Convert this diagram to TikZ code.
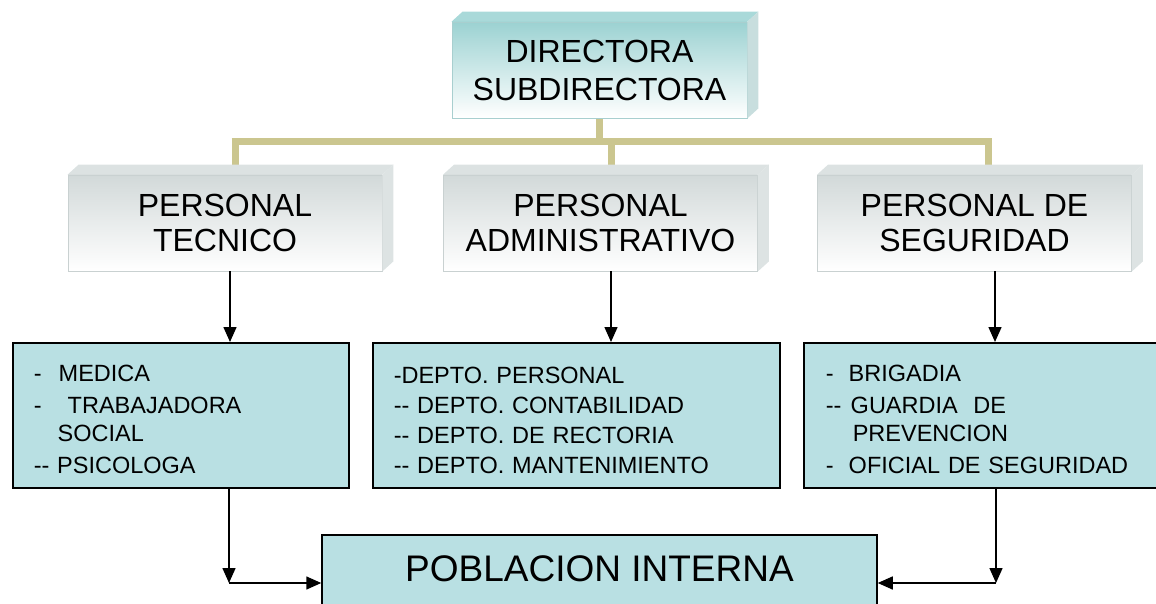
\documentclass[tikz,border=0pt]{standalone}
\usepackage{fontspec}
\setmainfont{Liberation Sans}
\usetikzlibrary{arrows.meta,calc,backgrounds}
\definecolor{goldc}{HTML}{CBC68F}
\definecolor{dirtop}{HTML}{9CD2D2}
\definecolor{dirbev}{HTML}{A9D9D9}
\definecolor{dirside}{HTML}{C8DEDE}
\definecolor{dirline}{HTML}{A8CFCF}
\definecolor{grtop}{HTML}{D2D9D9}
\definecolor{grbev}{HTML}{DCE2E2}
\definecolor{grside}{HTML}{DDE3E3}
\definecolor{grline}{HTML}{C9D1D1}
\definecolor{listc}{HTML}{B9E0E3}
\newcommand{\boxbevel}[3]{%
  \fill[#2] (#1.north west) -- ++(11,-10) -- ($(#1.north east)+(11,-10)$) -- (#1.north east) -- cycle;
  \fill[#3] (#1.north east) -- ++(11,-10) -- ($(#1.south east)+(11,-10)$) -- (#1.south east) -- cycle;}
\tikzset{
  goldline/.style={line width=7pt, draw=goldc},
  arr/.style={line width=1.5pt, -{Triangle[length=15pt,width=13pt]}},
  topbox/.style={minimum width=295pt, minimum height=96pt, top color=dirtop, bottom color=white,
    draw=dirline, line width=0.8pt, align=center, inner sep=0pt, font=\fontsize{32}{38}\selectfont},
  midbox/.style={minimum width=314pt, minimum height=96pt, top color=grtop, bottom color=white,
    draw=grline, line width=0.8pt, align=center, inner sep=0pt, font=\fontsize{32}{35}\selectfont},
  listbox/.style={fill=listc, draw=black, line width=1.5pt, anchor=north west, minimum height=145pt,
    align=left, inner ysep=0pt, font=\fontsize{23.5}{30}\selectfont},
  popbox/.style={fill=listc, draw=black, line width=1.5pt, anchor=north, minimum width=555pt,
    inner ysep=19.5pt, text height=27pt, text depth=60pt, font=\fontsize{37}{40}\selectfont}
}
\begin{document}
\begin{tikzpicture}[x=1pt,y=-1pt]
\useasboundingbox (0,0) rectangle (1156,604);
\clip (0,0) rectangle (1156,604);

% top box
\node[topbox] (dir) at (599.5,70) {DIRECTORA\\SUBDIRECTORA};
\boxbevel{dir}{dirbev}{dirside}

% second level
\node[midbox] (pt) at (225,223) {PERSONAL\\TECNICO};
\node[midbox] (pa) at (600.5,223) {PERSONAL\\ADMINISTRATIVO};
\node[midbox] (ps) at (974.5,223) {PERSONAL DE\\SEGURIDAD};
\boxbevel{pt}{grbev}{grside}
\boxbevel{pa}{grbev}{grside}
\boxbevel{ps}{grbev}{grside}

% bus
\coordinate (bus) at (dir.south |- 0,142);
\coordinate (busl) at (235,142);
\coordinate (busm) at (611,142);
\coordinate (busr) at (988,142);
\begin{pgfonlayer}{background}
  \draw[goldline] (dir.south) -- (bus);
  \draw[goldline] ($(busl)+(-3.5,0)$) -- ($(busr)+(3.5,0)$);
  \draw[goldline] (busl) -- (busl |- pt.north);
  \draw[goldline] (busm) -- (busm |- pa.north);
  \draw[goldline] (busr) -- (busr |- ps.north);
\end{pgfonlayer}

% third level
\node[listbox, minimum width=336pt, text width=294pt, inner xsep=21pt] (lt) at (12,342)
  {\rule{0pt}{24pt}\makebox[25pt][l]{-}MEDICA\\[2pt]
   \makebox[34pt][l]{-}TRABAJADORA\\[-2pt]
   \hspace*{24pt}SOCIAL\\[2pt]
   -{}- PSICOLOGA};
\node[listbox, minimum width=407pt, text width=365pt, inner xsep=21pt] (la) at (372,342)
  {\rule{0pt}{26pt}-DEPTO. PERSONAL\\
   -{}- DEPTO. CONTABILIDAD\\
   -{}- DEPTO. DE RECTORIA\\
   -{}- DEPTO. MANTENIMIENTO};
\node[listbox, minimum width=370pt, text width=326pt, inner xsep=22pt] (ls) at (803,342)
  {\rule{0pt}{24pt}\makebox[23pt][l]{-}BRIGADIA\\[2pt]
   \makebox[25pt][l]{-{}-}GUARDIA\ \ DE\\[-2pt]
   \hspace*{27pt}PREVENCION\\[2pt]
   \makebox[23pt][l]{-}OFICIAL DE SEGURIDAD};

\draw[arr] (230,0 |- pt.south) -- (230,0 |- lt.north);
\draw[arr] (611,0 |- pa.south) -- (611,0 |- la.north);
\draw[arr] (995,0 |- ps.south) -- (995,0 |- ls.north);

% bottom
\node[popbox] (pi) at (599.5,534) {POBLACION INTERNA};
\coordinate (cl) at (229,583);
\coordinate (cr) at (996,583);
\draw[arr] (cl |- lt.south) -- (cl);
\draw[arr] (cl) -- (cl -| pi.west);
\draw[arr] (cr |- ls.south) -- (cr);
\draw[arr] (cr) -- (cr -| pi.east);
\end{tikzpicture}
\end{document}
